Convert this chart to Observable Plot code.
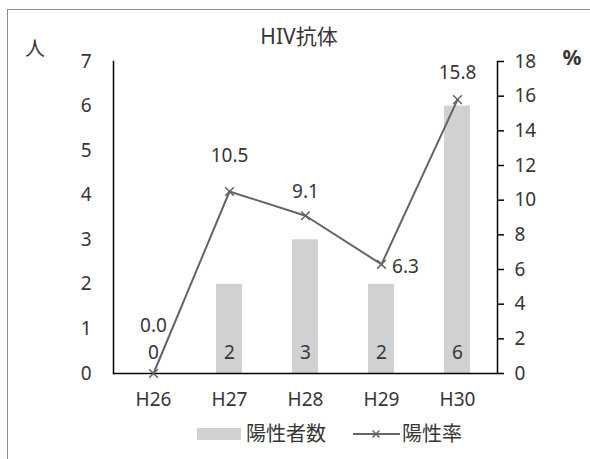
<!DOCTYPE html>
<html>
<head>
<meta charset="utf-8">
<script src="https://cdn.jsdelivr.net/npm/d3@7"></script>
<script src="https://cdn.jsdelivr.net/npm/@observablehq/plot@0.6"></script>
<style>
  html, body { margin: 0; padding: 0; background: #fff; }
  #wrap { position: relative; width: 590px; height: 459px; overflow: hidden;
    font-family: "Noto Sans", "Noto Sans CJK JP", sans-serif; color: #363636; }
  #wrap svg { position: absolute; left: 0; top: 0; }
  .abs { position: absolute; white-space: nowrap; line-height: 1; }
  #border { position: absolute; left: 7px; top: 9px; width: 600px; height: 460px;
    border-top: 1px solid #8c8c8c; border-left: 1px solid #8c8c8c; }
</style>
</head>
<body>
<div id="wrap">
  <div id="border"></div>
</div>
<script>
const years = ["H26", "H27", "H28", "H29", "H30"];
const counts = [0, 2, 3, 2, 6];
const rates = [0.0, 10.5, 9.1, 6.3, 15.8];
const countTicks = [0, 1, 2, 3, 4, 5, 6, 7];
const rateTicks = [0, 2, 4, 6, 8, 10, 12, 14, 16, 18];
const titleText = "HIV抗体";
const leftUnit = "人";
const rightUnit = "%";
const legendLabels = ["陽性者数", "陽性率"];

// label placement (layout only)
const rateLabelOffsets = [[0, -48], [0, -36], [0, -24], [24, 3], [0, -27]];

const k = 7 / 18; // rate -> count scale
const data = years.map((y, i) => ({year: y, count: counts[i], rate: rates[i]}));

const barColor = "#d0d1d3";
const lineColor = "#646464";
const textColor = "#363636";
const font = '"Noto Sans", "Noto Sans CJK JP", sans-serif';

const rateLabels = data.map((d, i) => Plot.text([d], {
  x: "year", y: d => d.rate * k, text: d => d.rate.toFixed(1),
  dx: rateLabelOffsets[i][0], dy: rateLabelOffsets[i][1], fill: textColor
}));

const chart = Plot.plot({
  width: 590, height: 459,
  marginLeft: 113, marginRight: 93, marginTop: 61, marginBottom: 86,
  style: {fontFamily: font, fontSize: "19px", color: textColor, background: "transparent"},
  x: {domain: years, paddingInner: 0.66, paddingOuter: 0.33, axis: null},
  y: {domain: [0, 7], axis: null},
  marks: [
    Plot.barY(data, {x: "year", y: "count", fill: barColor}),
    Plot.axisY(countTicks, {anchor: "left", tickSize: 0, tickPadding: 22, fill: textColor, label: null}),
    Plot.axisY(rateTicks.map(v => v * k), {anchor: "right", tickSize: 6, tickPadding: 11, strokeWidth: 1.5, stroke: "#000",
      tickFormat: d => String(Math.round(d / k)), fill: textColor, label: null}),
    Plot.axisX({anchor: "bottom", tickSize: 0, tickPadding: 19, fill: textColor, label: null}),
    Plot.frame({anchor: "left", stroke: "#000", strokeWidth: 1.5}),
    Plot.frame({anchor: "right", stroke: "#000", strokeWidth: 1.5}),
    Plot.ruleY([0], {stroke: "#000", strokeWidth: 1.5}),
    Plot.text(data, {x: "year", y: 0, text: d => String(d.count), dy: -21, fill: textColor}),
    Plot.lineY(data, {x: "year", y: d => d.rate * k, stroke: lineColor, strokeWidth: 2}),
    Plot.dot(data, {x: "year", y: d => d.rate * k, symbol: "times", r: 4, stroke: lineColor, strokeWidth: 1.5}),
    ...rateLabels
  ]
});

const wrap = document.getElementById("wrap");
wrap.appendChild(chart);

function addText(txt, left, top, size, anchor, weight) {
  const el = document.createElement("div");
  el.className = "abs";
  el.textContent = txt;
  el.style.fontSize = size + "px";
  if (weight) el.style.fontWeight = weight;
  el.style.left = left + "px";
  el.style.top = top + "px";
  el.style.transform = anchor === "center" ? "translate(-50%, -50%)" : "translate(0, -50%)";
  wrap.appendChild(el);
  return el;
}
addText(titleText, 299, 36, 21, "center");
addText(leftUnit, 35, 49, 20, "center");
addText(rightUnit, 572, 57, 21, "center", "bold");

// legend
const legend = document.createElement("div");
legend.className = "abs";
legend.style.left = "197px";
legend.style.top = "434px";
legend.style.transform = "translate(0, -50%)";
legend.style.display = "flex";
legend.style.alignItems = "center";
legend.style.fontSize = "20px";
legend.innerHTML = `
  <svg width="44" height="12" style="position:static;display:block"><rect width="44" height="12" fill="${barColor}"></rect></svg>
  <span style="margin-left:5px">${legendLabels[0]}</span>
  <svg width="47" height="12" style="position:static;display:block;margin-left:27px">
    <line x1="0" y1="6" x2="47" y2="6" stroke="${lineColor}" stroke-width="2"></line>
    <path d="M19.5,2.5L26.5,9.5M26.5,2.5L19.5,9.5" stroke="${lineColor}" stroke-width="1.5"></path>
  </svg>
  <span style="margin-left:2px">${legendLabels[1]}</span>`;
wrap.appendChild(legend);
</script>
</body>
</html>
